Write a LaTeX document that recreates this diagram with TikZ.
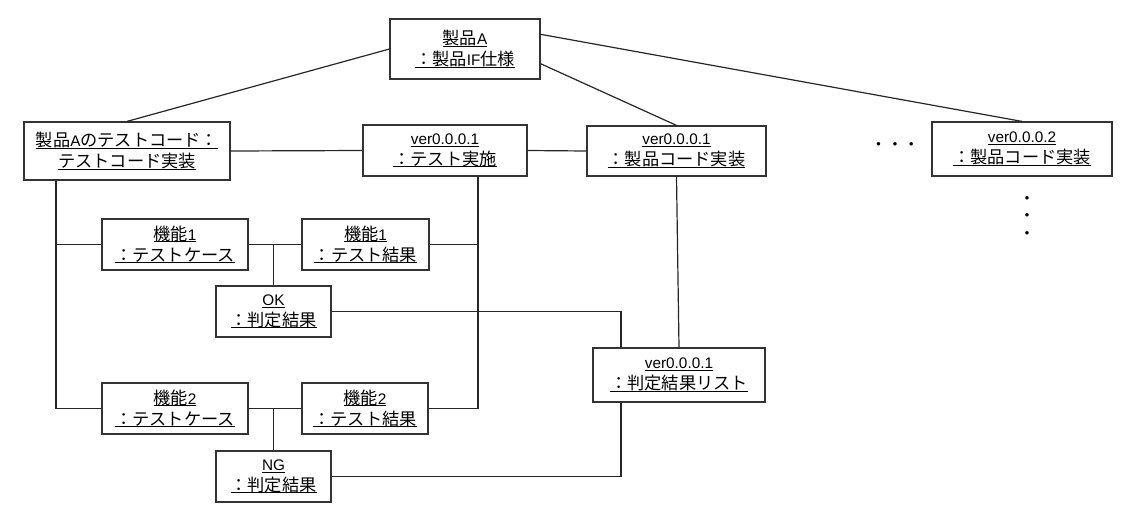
\documentclass[tikz,border=0pt]{standalone}
\usepackage{fontspec}
\setmainfont{Noto Sans CJK JP}
\newfontfamily\latfont[Scale=0.89]{Liberation Sans}
\newcommand{\lt}[1]{{\latfont #1}}
\newcommand{\ul}[1]{\setbox0\hbox{#1}\rlap{\rule[-1.7pt]{\wd0}{0.75pt}}\box0}
\begin{document}
\begin{tikzpicture}[x=0.75pt,y=-0.75pt,
  obj/.style={draw=black!80, line width=0.9pt, fill=white, inner sep=0pt, align=center,
    font=\fontsize{12.9}{15.6}\selectfont},
  sz/.style 2 args={minimum width=#1*0.75pt, minimum height=#2*0.75pt},
  conn/.style={line width=0.9pt, draw=black!85},
  dots/.style={inner sep=0pt, font=\fontsize{12.3}{13}\selectfont, align=center}]
\useasboundingbox (0,0) rectangle (1138,526);
\node[obj, sz={150}{60}] (pa) at (465,49) {\ul{製品\lt{A}}\\\ul{：製品\lt{IF}仕様}};
\node[obj, sz={206}{58}] (tc) at (127,151) {\ul{製品\lt{A}のテストコード：}\\\ul{テストコード実装}};
\node[obj, sz={164}{51}] (te) at (445,150.5) {\ul{\lt{ver0.0.0.1}}\\\ul{：テスト実施}};
\node[obj, sz={179}{50}] (pc) at (676.5,151) {\ul{\lt{ver0.0.0.1}}\\\ul{：製品コード実装}};
\node[obj, sz={180}{54}] (v2) at (1022,149) {\ul{\lt{ver0.0.0.2}}\\\ul{：製品コード実装}};
\node[dots] (hd) at (895,147) {・・・};
\node[dots, font=\fontsize{12.3}{13}\selectfont] (vd) at (1027,218) {・\\・\\・};
\node[obj, sz={146}{51}] (f1c) at (175,244.5) {\ul{機能\lt{1}}\\\ul{：テストケース}};
\node[obj, sz={127}{51}] (f1r) at (365.5,244.5) {\ul{機能\lt{1}}\\\ul{：テスト結果}};
\node[obj, sz={115}{51}] (ok) at (273.5,311.5) {\ul{\lt{OK}}\\\ul{：判定結果}};
\node[obj, sz={146}{51}] (f2c) at (175,408.5) {\ul{機能\lt{2}}\\\ul{：テストケース}};
\node[obj, sz={126}{51}] (f2r) at (365,408.5) {\ul{機能\lt{2}}\\\ul{：テスト結果}};
\node[obj, sz={115}{51}] (ng) at (273.5,476.5) {\ul{\lt{NG}}\\\ul{：判定結果}};
\node[obj, sz={172}{54}] (jl) at (679,375) {\ul{\lt{ver0.0.0.1}}\\\ul{：判定結果リスト}};
\coordinate (xL) at (56,0);
\coordinate (xR) at (478,0);
\coordinate (xM) at (621,0);
\draw[conn] (pa.west) -- (tc.north);
\draw[conn] (pa.-11) -- (pc.north);
\draw[conn] (pa.11) -- (v2.north);
\draw[conn] (tc.east) -- (te.west);
\draw[conn] (te.east) -- (pc.west);
\draw[conn] (tc.south -| xL) |- (f2c.west);
\draw[conn] (f1c.west -| xL) -- (f1c.west);
\draw[conn] (f1c.east) -- (f1r.west);
\draw[conn] (ok.north) -- (ok.north |- f1c.east);
\draw[conn] (te.south -| xR) |- (f2r.east);
\draw[conn] (f1r.east) -- (f1r.east -| xR);
\draw[conn] (f2c.east) -- (f2r.west);
\draw[conn] (ng.north) -- (ng.north |- f2c.east);
\draw[conn] (ok.east) -| (jl.north -| xM);
\draw[conn] (ng.east) -| (jl.south -| xM);
\draw[conn] (pc.south) -- (jl.north);
\end{tikzpicture}
\end{document}
